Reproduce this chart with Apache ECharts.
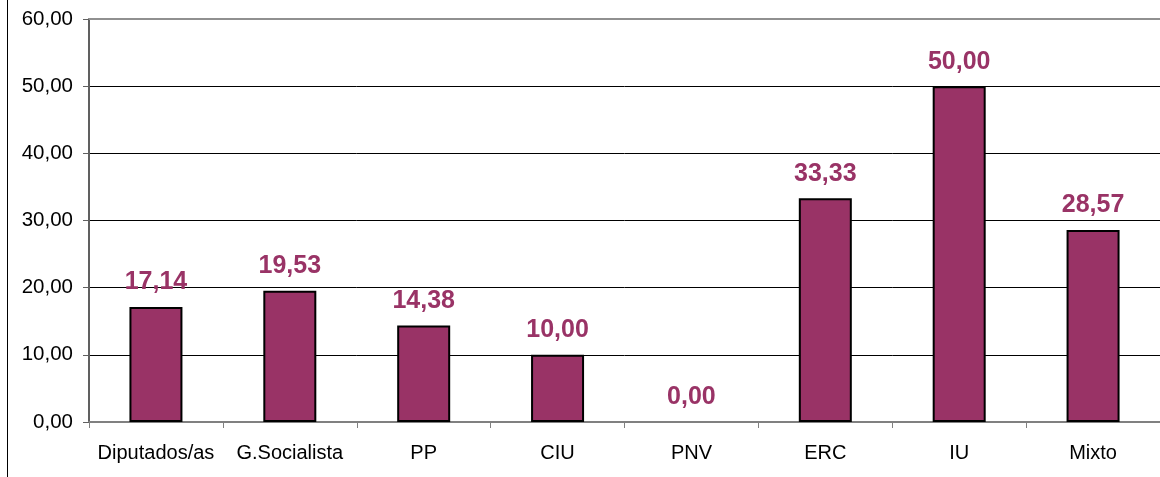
<!DOCTYPE html>
<html>
<head>
<meta charset="utf-8" />
<title>Grupos</title>
<style>
  html, body { margin: 0; padding: 0; background: #fff; }
  #chart { width: 1160px; height: 477px; }
</style>
</head>
<body>
<div id="chart"></div>
<script src="https://cdn.jsdelivr.net/npm/echarts@6/dist/echarts.min.js"></script>
<script>
var categories = ['Diputados/as', 'G.Socialista', 'PP', 'CIU', 'PNV', 'ERC', 'IU', 'Mixto'];
var values = [17.14, 19.53, 14.38, 10.00, 0.00, 33.33, 50.00, 28.57];
var yMin = 0, yMax = 60, yStep = 10;

function fmt(v) {
    return Number(v).toFixed(2).replace('.', ',');
}

var myChart = echarts.init(document.getElementById('chart'));

// a zero bar has no visible outline in the original
var barData = values.map(function (v) {
    return v === 0 ? { value: v, itemStyle: { borderWidth: 0 } } : v;
});

var option = {
    animation: false,
    backgroundColor: '#fff',
    textStyle: { fontFamily: 'Liberation Sans, Arial, sans-serif' },
    grid: { left: 89, top: 19, width: 1075, height: 403, containLabel: false },
    graphic: [
        // outer frame line on the left
        { type: 'line', shape: { x1: 7.5, y1: 0, x2: 7.5, y2: 477 }, style: { stroke: '#000', lineWidth: 1 } }
    ],
    xAxis: [
        {
            type: 'category',
            data: categories,
            axisLine: { lineStyle: { color: '#808080', width: 2 } },
            axisTick: { show: true, length: 6, lineStyle: { color: '#808080', width: 1 } },
            axisLabel: { color: '#000', fontSize: 20, margin: 21, interval: 0 }
        },
        {
            type: 'category',
            data: categories,
            position: 'top',
            axisLine: { show: true, lineStyle: { color: '#909090', width: 2 } },
            axisTick: { show: false },
            axisLabel: { show: false }
        }
    ],
    yAxis: {
        type: 'value',
        min: yMin,
        max: yMax,
        interval: yStep,
        axisLine: { show: true, lineStyle: { color: '#606060', width: 2 } },
        axisTick: { show: true, length: 6, lineStyle: { color: '#606060', width: 1 } },
        axisLabel: { color: '#000', fontSize: 20.5, margin: 16, formatter: fmt },
        splitLine: { show: true, lineStyle: { color: '#000', width: 1 } }
    },
    series: [
        {
            type: 'bar',
            data: barData,
            barWidth: 53,
            itemStyle: { color: '#993366', borderColor: '#000', borderWidth: 2 },
            label: {
                show: true,
                position: 'top',
                distance: 12,
                color: '#993366',
                fontSize: 25,
                fontWeight: 'bold',
                formatter: function (p) { return fmt(p.value); }
            }
        }
    ]
};
myChart.setOption(option);
</script>
</body>
</html>
